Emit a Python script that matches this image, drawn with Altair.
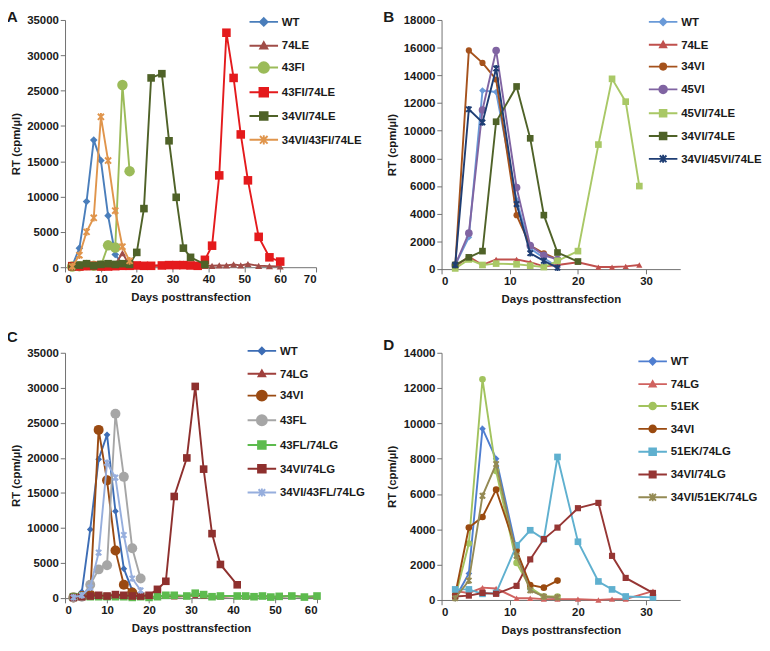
import math
import altair as alt
import pandas as pd

FONT = "Liberation Sans"
TXT = "#1a1a1a"
AX = "#6b6b6b"

# ---------------- Panel A ----------------
A_days_short = [2, 4, 6, 8, 10, 12, 14, 16, 18]
A_days_long = [2, 4, 6, 8, 10, 12, 14, 16, 18, 20, 22, 24, 27, 29, 31, 33, 35, 37, 39, 41, 43, 45, 47, 49, 51, 54, 57, 60]
A_WT_day = [2, 4, 6, 8, 10, 12, 14, 16]
A_WT_rt = [200, 2700, 9300, 18000, 15100, 7300, 1800, 400]
A_74LE_rt = [100, 150, 200, 200, 250, 300, 400, 2000, 300, 200, 150, 200, 250, 300, 350, 500, 300, 250, 200, 200, 250, 250, 400, 250, 450, 200, 150, 100]
A_43FI_rt = [100, 150, 300, 200, 200, 3100, 2800, 25800, 13600]
A_43FI74LE_rt = [150, 100, 150, 200, 100, 100, 150, 200, 200, 250, 200, 200, 250, 300, 300, 300, 250, 200, 1050, 3050, 13000, 33200, 26800, 18800, 12300, 4300, 1400, 800]
A_34VI74LE_day = [2, 4, 6, 8, 10, 12, 14, 16, 18, 20, 22, 24, 27, 29, 31, 33, 35, 39]
A_34VI74LE_rt = [100, 300, 500, 200, 400, 500, 400, 500, 400, 2100, 8300, 26800, 27400, 17900, 9900, 2700, 1400, 400]
A_34VI43FI74LE_rt = [100, 1700, 5000, 7000, 21300, 15100, 8000, 2900, 900]

# ---------------- Panel B ----------------
B_days_short = [2, 4, 6, 8, 11, 13, 15, 17]
B_days_long = [2, 4, 6, 8, 11, 13, 15, 17, 20, 23, 25, 27, 29]
B_34VI74LE_day = [2, 4, 6, 8, 11, 13, 15, 17, 20]
B_WT_rt = [300, 2300, 12900, 12800, 5000, 1500, 800, 150]
B_74LE_rt = [200, 900, 300, 700, 700, 500, 200, 300, 500, 150, 150, 200, 300]
B_34VI_rt = [200, 15800, 14900, 13700, 3900, 1700, 1150, 700]
B_45VI_rt = [300, 2600, 11500, 15800, 5900, 1700, 1000, 700]
B_45VI74LE_rt = [50, 700, 300, 400, 350, 250, 150, 600, 1300, 9000, 13750, 12100, 6000]
B_34VI74LE_rt = [300, 850, 1300, 10650, 13200, 9450, 3900, 1200, 550]
B_34VI45VI74LE_rt = [300, 11550, 10600, 14500, 4700, 1150, 600, 100]

# ---------------- Panel C ----------------
C_days_short = [2, 4, 6, 8, 10, 12, 14, 16, 18]
C_days_long = [2, 4, 6, 8, 10, 12, 14, 16, 18, 20, 22, 24, 26, 29, 31, 33, 35, 37, 41, 43, 45, 47, 49, 51, 54, 57, 60]
C_WT_day = [2, 4, 6, 8, 10, 12, 14, 16]
C_WT_rt = [100, 900, 9800, 19800, 23300, 12400, 4200, 1100]
C_74LG_rt = [100, 200, 300, 200, 300, 400, 300, 200, 300, 200, 200, 300, 200, 300, 400, 300, 200, 200, 300, 200, 200, 300, 200, 200, 300, 200, 200]
C_34VI_day = [2, 4, 6, 8, 10, 12, 14, 16]
C_34VI_rt = [100, 300, 500, 24000, 16800, 6800, 1900, 800]
C_43FL_rt = [100, 200, 1900, 4100, 4700, 26300, 17300, 7100, 2800]
C_43FL74LG_rt = [200, 300, 200, 200, 200, 200, 200, 100, 200, 100, 200, 400, 400, 300, 700, 500, 200, 300, 300, 300, 200, 300, 150, 250, 300, 150, 300]
C_34VI74LG_day = [2, 4, 6, 8, 10, 12, 14, 16, 18, 20, 22, 24, 26, 29, 31, 33, 35, 37, 41]
C_34VI74LG_rt = [100, 200, 300, 400, 300, 500, 400, 300, 300, 400, 1250, 2400, 14500, 20000, 30200, 18400, 9200, 4800, 1900]
C_34VI43FL74LG_rt = [100, 400, 1500, 6500, 19300, 17200, 9000, 2800, 1100]

# ---------------- Panel D ----------------
D_days_short = [2, 4, 6, 8, 11, 13, 15, 17]
D_days_long = [2, 4, 6, 8, 11, 13, 15, 17, 20, 23, 25, 27, 31]
D_WT_rt = [100, 1500, 9700, 8000, 2800, 600, 200, 100]
D_74LG_rt = [500, 400, 700, 650, 100, 100, 50, 50, 50, 0, 50, 50, 500]
D_51EK_rt = [150, 3200, 12500, 7300, 2100, 700, 200, 200]
D_34VI_rt = [300, 4100, 4700, 6250, 2800, 850, 700, 1100]
D_51EK74LG_rt = [600, 600, 350, 400, 3100, 3950, 3450, 8100, 3300, 1050, 600, 200, 150]
D_34VI74LG_rt = [200, 250, 400, 350, 800, 2300, 3450, 4100, 5200, 5500, 2500, 1250, 400]
D_34VI51EK74LG_rt = [100, 1100, 5900, 7700, 2500, 550, 200, 150]

# series definitions: (name, days, values, color, marker, marker size)
A_series = [
    ("WT", A_WT_day, A_WT_rt, "#4A7EBB", "diamond", 64),
    ("74LE", A_days_long, A_74LE_rt, "#A04D48", "triangle", 56),
    ("43FI", A_days_short, A_43FI_rt, "#9BBB59", "circle", 121),
    ("43FI/74LE", A_days_long, A_43FI74LE_rt, "#E41A1C", "square", 81),
    ("34VI/74LE", A_34VI74LE_day, A_34VI74LE_rt, "#4F6228", "square", 64),
    ("34VI/43FI/74LE", A_days_short, A_34VI43FI74LE_rt, "#E0954C", "star", 64),
]
B_series = [
    ("WT", B_days_short, B_WT_rt, "#6A9AD8", "diamond", 49),
    ("74LE", B_days_long, B_74LE_rt, "#C0504D", "triangle", 42),
    ("34VI", B_days_short, B_34VI_rt, "#A5521C", "circle", 42),
    ("45VI", B_days_short, B_45VI_rt, "#8064A2", "circle", 64),
    ("45VI/74LE", B_days_long, B_45VI74LE_rt, "#A9C866", "square", 49),
    ("34VI/74LE", B_34VI74LE_day, B_34VI74LE_rt, "#4F6228", "square", 49),
    ("34VI/45VI/74LE", B_days_short, B_34VI45VI74LE_rt, "#1F3E74", "star", 49),
]
C_series = [
    ("WT", C_WT_day, C_WT_rt, "#3D6DB5", "diamond", 49),
    ("74LG", C_days_long, C_74LG_rt, "#A0403C", "triangle", 49),
    ("34VI", C_34VI_day, C_34VI_rt, "#9A4A12", "circle", 110),
    ("43FL", C_days_short, C_43FL_rt, "#A6A6A6", "circle", 110),
    ("43FL/74LG", C_days_long, C_43FL74LG_rt, "#5DBB4E", "square", 64),
    ("34VI/74LG", C_34VI74LG_day, C_34VI74LG_rt, "#8E302E", "square", 64),
    ("34VI/43FL/74LG", C_days_short, C_34VI43FL74LG_rt, "#96AEDD", "star", 49),
]
D_series = [
    ("WT", D_days_short, D_WT_rt, "#4F7ED0", "diamond", 49),
    ("74LG", D_days_long, D_74LG_rt, "#D0625F", "triangle", 42),
    ("51EK", D_days_short, D_51EK_rt, "#A2C35E", "circle", 49),
    ("34VI", D_days_short, D_34VI_rt, "#9A4A10", "circle", 49),
    ("51EK/74LG", D_days_long, D_51EK74LG_rt, "#5FB0CF", "square", 49),
    ("34VI/74LG", D_days_long, D_34VI74LG_rt, "#963634", "square", 42),
    ("34VI/51EK/74LG", D_days_short, D_34VI51EK74LG_rt, "#948A54", "star", 49),
]

STAR = "M-0.8,-0.8L0.8,0.8M0.8,-0.8L-0.8,0.8M0,-1L0,1"
PLOT_SHAPE = {"diamond": "diamond", "triangle": "triangle-up", "circle": "circle", "square": "square", "star": STAR}

LEG_HALF = 15.0  # half length of legend line (px)


def legend_path(marker, size):
    r = round(math.sqrt(size) / 2 / LEG_HALF, 3)
    line = "M-1,0L1,0"
    if marker == "diamond":
        m = f"M0,{-r}L{r},0L0,{r}L{-r},0Z"
    elif marker == "triangle":
        m = f"M0,{-r}L{r},{round(r*0.8,3)}L{-r},{round(r*0.8,3)}Z"
    elif marker == "circle":
        m = f"M{-r},0A{r},{r} 0 1,1 {r},0A{r},{r} 0 1,1 {-r},0Z"
    elif marker == "square":
        m = f"M{-r},{-r}L{r},{-r}L{r},{r}L{-r},{r}Z"
    else:
        m = f"M{-r},{-r}L{r},{r}M{r},{-r}L{-r},{r}M0,{round(-r*1.2,3)}L0,{round(r*1.2,3)}"
    return line + m


def panel(letter, series, xmax, xticks, ymax, ystep, width, height, legx, legy, rowpad, toff):
    x_enc = alt.X("day:Q", scale=alt.Scale(domain=[0, xmax], nice=False, zero=True),
                  axis=alt.Axis(values=xticks, format="d", title="Days posttransfection"))
    y_enc = alt.Y("rt:Q", scale=alt.Scale(domain=[0, ymax], nice=False),
                  axis=alt.Axis(values=list(range(0, ymax + 1, ystep)), format="d", title="RT (cpm/µl)"))
    layers = []
    for name, days, vals, color, marker, size in series:
        df = pd.DataFrame({"day": days, "rt": vals, "series": name})
        base = alt.Chart(df)
        layers.append(base.mark_line(color=color, strokeWidth=2).encode(x=x_enc, y=y_enc))
        if marker == "star":
            pt = base.mark_point(shape=STAR, filled=False, stroke=color, strokeWidth=2,
                                 size=size, opacity=1)
        else:
            pt = base.mark_point(shape=PLOT_SHAPE[marker], filled=True, fill=color,
                                 size=size, opacity=1, strokeWidth=0)
        layers.append(pt.encode(x=x_enc, y=y_enc))
    names = [s[0] for s in series]
    colors = [s[3] for s in series]
    paths = [legend_path(s[4], s[5]) for s in series]
    leg = alt.Legend(title=None, orient="none", legendX=legx, legendY=legy,
                     symbolSize=(2 * LEG_HALF) ** 2, symbolStrokeWidth=2, symbolOpacity=1,
                     labelFont=FONT, labelFontSize=12, labelFontWeight="bold", labelColor=TXT,
                     labelOffset=3, rowPadding=rowpad, padding=0)
    leg_df = pd.DataFrame({"series": names})
    leg_layer = alt.Chart(leg_df).mark_point(filled=True, opacity=0).encode(
        fill=alt.Fill("series:N", scale=alt.Scale(domain=names, range=colors), legend=leg),
        stroke=alt.Stroke("series:N", scale=alt.Scale(domain=names, range=colors), legend=leg),
        shape=alt.Shape("series:N", scale=alt.Scale(domain=names, range=paths), legend=leg),
    )
    layers.append(leg_layer)
    return alt.layer(*layers).properties(
        width=width, height=height,
        title=alt.TitleParams(letter, anchor="start", frame="bounds", offset=toff, dx=-3,
                              font=FONT, fontSize=16, fontWeight="bold", color=TXT),
    )


pA = panel("A", A_series, 70, list(range(0, 71, 10)), 35000, 5000, 264, 260, 193, -14, -3, -19)
pB = panel("B", B_series, 35, [0, 10, 20, 30], 18000, 2000, 251, 262, 217, -14, -3.5, -19)
pC = panel("C", C_series, 60, list(range(0, 61, 10)), 35000, 5000, 265, 258, 191, -18, -4.5, -10)
pD = panel("D", D_series, 35, [0, 10, 20, 30], 14000, 2000, 251, 260, 206, -7, -3.5, -7)

chart = alt.concat(pA, pB, pC, pD, columns=2, spacing={"row": 27, "column": 18}).resolve_scale(
    fill="independent", stroke="independent", shape="independent"
).properties(padding={"top": -18, "left": -2, "right": 0, "bottom": 0}).configure_axis(
    grid=False, domainColor=AX, tickColor=AX, tickSize=5, domainWidth=1,
    labelFont=FONT, labelFontSize=12, labelFontWeight="bold", labelColor=TXT, labelPadding=2,
    titleFont=FONT, titleFontSize=12, titleFontWeight="bold", titleColor=TXT,
).configure_axisX(titlePadding=8).configure_axisY(titlePadding=5).configure_view(stroke=None)

chart.save("out.html", embed_options={"renderer": "svg", "actions": False})
